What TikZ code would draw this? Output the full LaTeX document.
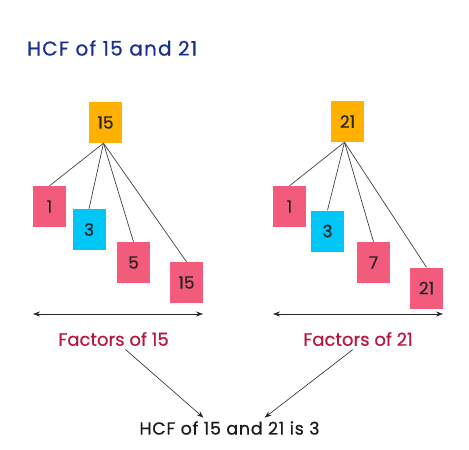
\documentclass[tikz,border=0pt]{standalone}
\usepackage{fontspec}
\setmainfont{Poppins}[FakeBold=0.6]
\newfontfamily\widefont{Poppins}[FakeBold=0.6, LetterSpace=4]
\newfontfamily\titlefont{Poppins}[FakeBold=0.7, LetterSpace=6]
\usetikzlibrary{arrows.meta}
\definecolor{hcfblue}{HTML}{1B2F8C}
\definecolor{hcfred}{HTML}{B5173F}
\definecolor{boxorange}{HTML}{FFB000}
\definecolor{boxpink}{HTML}{F25B7B}
\definecolor{boxcyan}{HTML}{00C6F7}
\tikzset{
  numbox/.style={minimum width=33pt, minimum height=41pt, inner sep=0pt, text=black!85, font=\fontsize{17}{17}\selectfont},
  rootbox/.style={numbox, fill=boxorange},
  factbox/.style={numbox, fill=boxpink},
  commonbox/.style={numbox, fill=boxcyan},
  branch/.style={draw=black!75, line width=0.7pt},
  arr/.style={draw=black!85, line width=0.6pt, -{Stealth[length=7pt,width=5pt]}}
}

\begin{document}
\begin{tikzpicture}[x=1pt, y=-1pt]
\useasboundingbox (0,0) rectangle (469,450);
\node[anchor=west, inner sep=0pt, text=hcfblue, font=\titlefont\fontsize{20}{20}\selectfont] (title) at (27,48) {HCF of 15 and 21};

% factors of 15
\node[rootbox] (a) at (105.5,122.5) {15};
\node[factbox] (a1) at (49.5,206.5) {1};
\node[commonbox] (a3) at (89,229.5) {3};
\node[factbox] (a5) at (133.5,262.5) {5};
\node[factbox] (a15) at (186.5,282.5) {15};
\foreach \k in {a1,a3,a5,a15}
  \draw[branch] ([xshift=-2pt]a.south) -- (\k.north);

% factors of 21
\node[rootbox] (b) at (347.5,121.5) {21};
\node[factbox] (b1) at (289.5,206.5) {1};
\node[commonbox] (b3) at (327.5,231) {3};
\node[factbox] (b7) at (373.5,262.5) {7};
\node[factbox] (b21) at (426.5,288) {21};
\foreach \k in {b1,b3,b7,b21}
  \draw[branch] ([xshift=-3pt]b.south) -- (\k.north);

% spans
\coordinate (al) at (33,314);
\coordinate (ar) at (203,314);
\coordinate (bl) at (273,314);
\coordinate (br) at (443,314);
\draw[arr, {Stealth[length=7pt,width=5pt]}-{Stealth[length=7pt,width=5pt]}] (al) -- (ar);
\draw[arr, {Stealth[length=7pt,width=5pt]}-{Stealth[length=7pt,width=5pt]}] (bl) -- (br);

\node[text=hcfred, font=\fontsize{18}{18}\selectfont] (fa) at (113.5,339) {Factors of 15};
\node[text=hcfred, font=\fontsize{18}{18}\selectfont] (fb) at (358,339) {Factors of 21};
\node[text=black!90, font=\widefont\fontsize{17.5}{17.5}\selectfont] (res) at (229.5,428) {HCF of 15 and 21 is 3};

\draw[arr] ([xshift=12pt]fa.south) -- ([xshift=-26pt]res.north);
\draw[arr] ([xshift=-5pt]fb.south) -- ([xshift=35pt]res.north);
\end{tikzpicture}
\end{document}
